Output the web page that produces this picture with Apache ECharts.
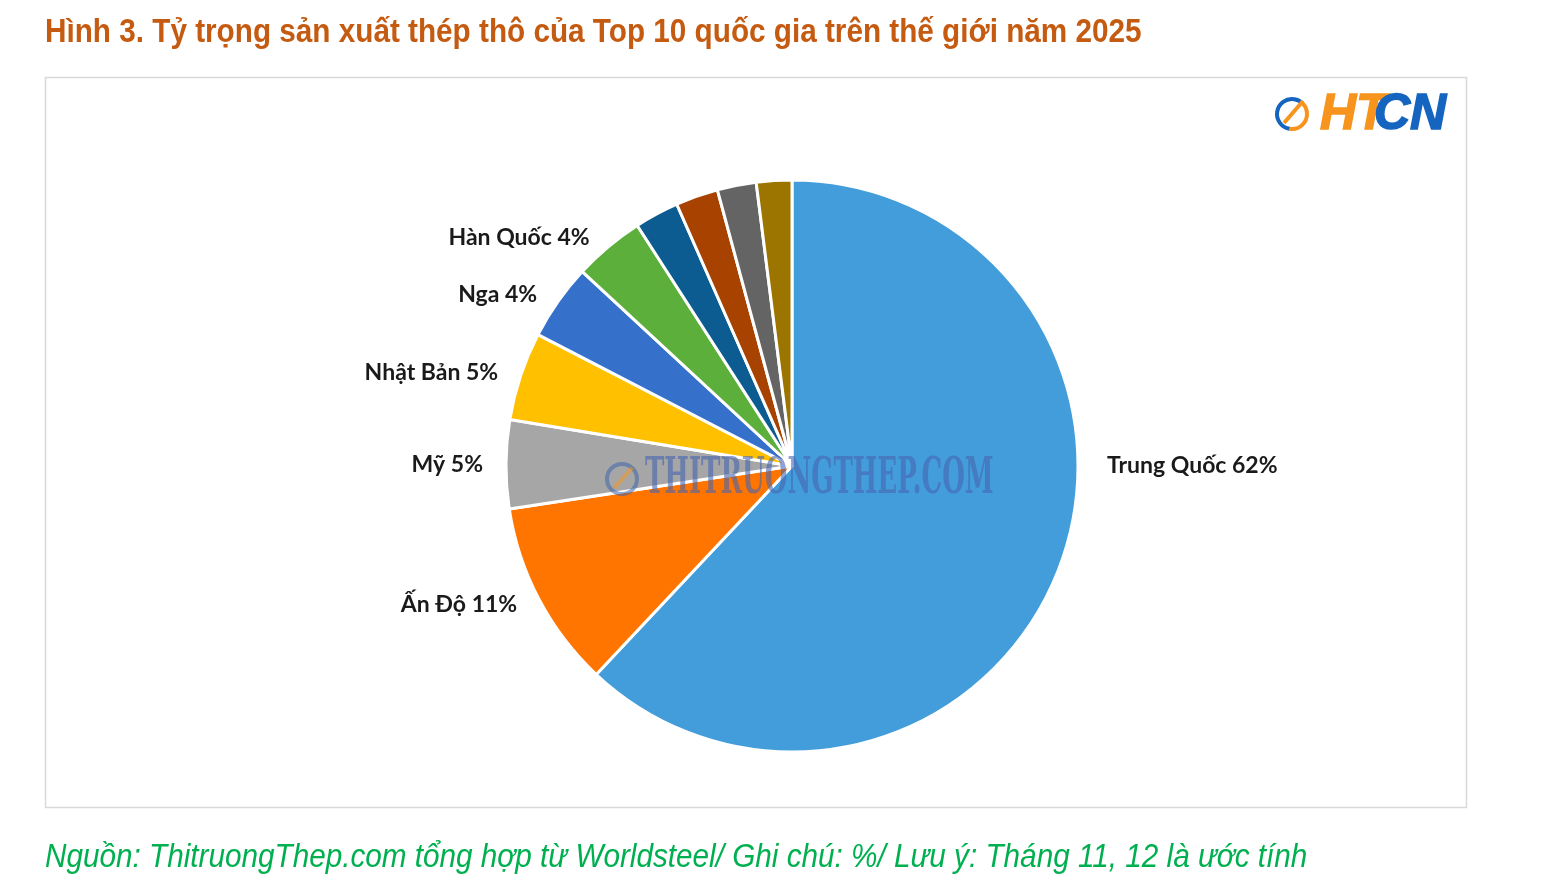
<!DOCTYPE html>
<html>
<head>
<meta charset="utf-8">
<script src="https://cdn.jsdelivr.net/npm/echarts@6/dist/echarts.min.js"></script>
<style>
  html, body { margin: 0; padding: 0; background: #fff; }
  #chart { width: 1544px; height: 878px; }
</style>
</head>
<body>
<div id="chart"></div>
<script>
// Tỷ trọng sản xuất thép thô - Top 10 quốc gia 2025
const countries = ['Trung Quốc', 'Ấn Độ', 'Mỹ', 'Nhật Bản', 'Nga', 'Hàn Quốc', 'Đức', 'Thổ Nhĩ Kỳ', 'Brazil', 'Iran'];
const shares = [62, 10.6, 5, 5, 4.3, 4, 2.5, 2.4, 2.2, 2.0];
const showLabel = [true, true, true, true, true, true, false, false, false, false];
const colors = ['#439DDB', '#FF7500', '#A6A6A6', '#FFC000', '#3570CB', '#5CAF3A', '#0D5C91', '#A84200', '#646464', '#9C7400'];

const pieCenter = [792, 466];
const pieRadius = 286;

const chart = echarts.init(document.getElementById('chart'));

const option = {
  animation: false,
  graphic: [
    {
      type: 'text', x: 45, y: 16, scaleX: 0.9, z: 10,
      style: {
        text: 'Hình 3. Tỷ trọng sản xuất thép thô của Top 10 quốc gia trên thế giới năm 2025',
        font: 'bold 33px "Liberation Sans", Arial, sans-serif',
        fill: '#C55A11'
      }
    },
    {
      type: 'rect', shape: { x: 45.5, y: 77.5, width: 1421, height: 730 },
      style: { fill: 'none', stroke: '#D9D9D9', lineWidth: 1.5 }, z: 0
    },
    {
      type: 'text', x: 45, y: 841, scaleX: 0.9, z: 10,
      style: {
        text: 'Nguồn: ThitruongThep.com tổng hợp từ Worldsteel/ Ghi chú: %/ Lưu ý: Tháng 11, 12 là ước tính',
        font: 'italic 33px "Liberation Sans", Arial, sans-serif',
        fill: '#00B050'
      }
    },
    // logo HTCN
    {
      type: 'arc', z: 10, shape: { cx: 1292, cy: 114, r: 15, startAngle: Math.PI * 0.55, endAngle: Math.PI * 1.75 },
      style: { stroke: '#1565C0', lineWidth: 4, fill: 'none' }
    },
    {
      type: 'arc', z: 10, shape: { cx: 1292, cy: 114, r: 15, startAngle: Math.PI * 1.75, endAngle: Math.PI * 2.55 },
      style: { stroke: '#F7941D', lineWidth: 4, fill: 'none' }
    },
    {
      type: 'line', z: 10, shape: { x1: 1284, y1: 123, x2: 1303, y2: 101 },
      style: { stroke: '#F7941D', lineWidth: 4 }
    },
    {
      type: 'text', z: 10, x: 1320, y: 90,
      style: { text: 'HT', font: 'italic 900 50px "Liberation Sans", Arial, sans-serif', fill: '#F7941D', stroke: '#F7941D', lineWidth: 1.5 }
    },
    {
      type: 'text', z: 10, x: 1374, y: 90,
      style: { text: 'CN', font: 'italic 900 50px "Liberation Sans", Arial, sans-serif', fill: '#1565C0', stroke: '#1565C0', lineWidth: 1.5 }
    },
    // watermark
    {
      type: 'arc', z: 100, shape: { cx: 622, cy: 479, r: 15, startAngle: 0, endAngle: Math.PI * 2 },
      style: { stroke: 'rgba(60,100,170,0.55)', lineWidth: 4, fill: 'none' }
    },
    {
      type: 'line', z: 100, shape: { x1: 614, y1: 488, x2: 632, y2: 468 },
      style: { stroke: 'rgba(240,150,40,0.6)', lineWidth: 4 }
    },
    {
      type: 'text', z: 100, x: 645, y: 454, scaleX: 0.51,
      style: {
        text: 'THITRUONGTHEP.COM',
        font: 'bold 51px "DejaVu Serif", serif',
        fill: 'rgba(70,100,175,0.6)'
      }
    }
  ],
  series: [
    {
      type: 'pie',
      center: pieCenter,
      radius: pieRadius,
      startAngle: 90,
      clockwise: true,
      avoidLabelOverlap: false,
      itemStyle: { borderColor: '#fff', borderWidth: 3 },
      label: {
        position: 'outside',
        formatter: (p) => p.name + ' ' + Math.round(p.percent) + '%',
        fontFamily: 'Lato, "Open Sans", sans-serif',
        fontWeight: 'bold',
        fontSize: 23,
        color: '#1a1a1a'
      },
      labelLine: { show: false, length: 12, length2: 6 },
      labelLayout: (params) => {
        if (params.dataIndex === 0) {
          return { x: pieCenter[0] + pieRadius + 29, y: pieCenter[1], align: 'left', verticalAlign: 'middle' };
        }
        return {};
      },
      emphasis: { disabled: true },
      data: countries.map((c, i) => ({
        name: c,
        value: shares[i],
        itemStyle: { color: colors[i] },
        label: { show: showLabel[i] }
      }))
    }
  ]
};

chart.setOption(option);
</script>
</body>
</html>
